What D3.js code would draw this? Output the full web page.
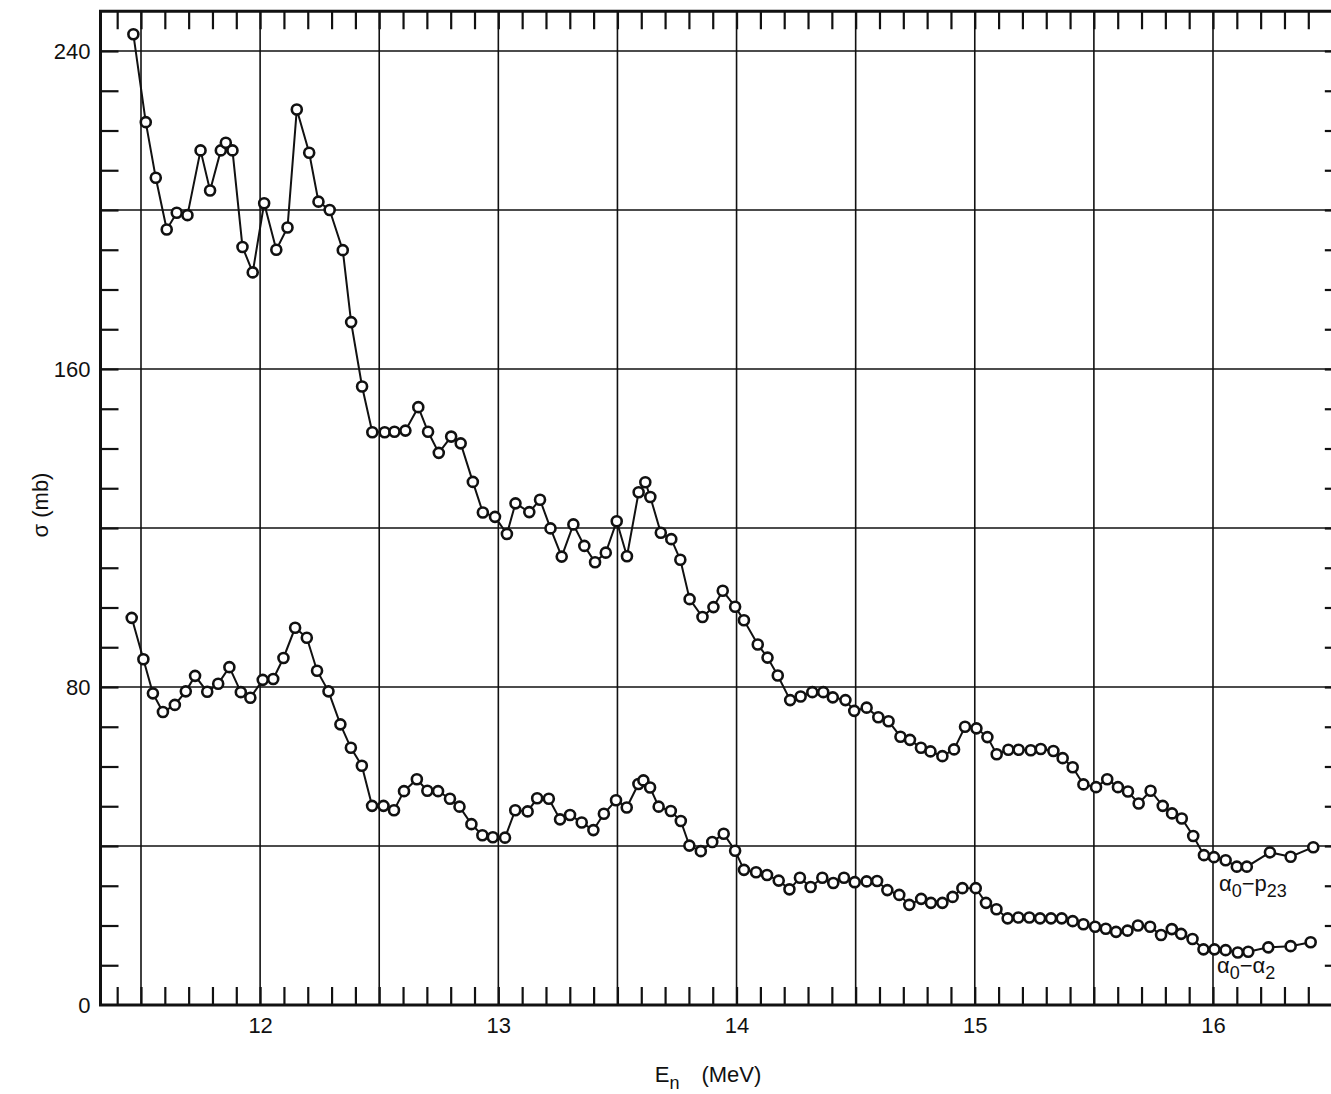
<!DOCTYPE html>
<html>
<head>
<meta charset="utf-8">
<script src="https://cdn.jsdelivr.net/npm/d3@7"></script>
<style>
  body { margin: 0; background: #fff; }
  svg { display: block; font-family: "Liberation Sans", "DejaVu Sans", sans-serif; }
  .tick text { font-size: 22px; fill: #111; }
</style>
</head>
<body>
<div id="chart"></div>
<script>
// neutron energy (MeV) and cross section (mb)
const upperEnergy = [11.468, 11.52, 11.562, 11.608, 11.65, 11.695, 11.75, 11.79, 11.835, 11.856, 11.884, 11.926, 11.969, 12.017, 12.068, 12.115, 12.154, 12.206, 12.245, 12.292, 12.347, 12.382, 12.428, 12.471, 12.523, 12.564, 12.61, 12.664, 12.705, 12.75, 12.802, 12.842, 12.893, 12.935, 12.986, 13.036, 13.072, 13.13, 13.175, 13.219, 13.266, 13.315, 13.361, 13.406, 13.451, 13.497, 13.54, 13.589, 13.617, 13.638, 13.682, 13.726, 13.764, 13.803, 13.857, 13.903, 13.942, 13.994, 14.031, 14.089, 14.13, 14.173, 14.225, 14.269, 14.318, 14.364, 14.404, 14.457, 14.494, 14.546, 14.595, 14.638, 14.688, 14.728, 14.774, 14.814, 14.864, 14.913, 14.959, 15.007, 15.053, 15.092, 15.141, 15.184, 15.235, 15.277, 15.33, 15.369, 15.411, 15.456, 15.509, 15.556, 15.601, 15.643, 15.688, 15.738, 15.789, 15.828, 15.869, 15.917, 15.962, 16.004, 16.053, 16.1, 16.142, 16.239, 16.326, 16.421];
const upperSigma = [244.2, 222.1, 208.1, 195.1, 199.3, 198.7, 215.0, 204.9, 215.0, 216.9, 215.0, 190.7, 184.3, 201.7, 190.0, 195.6, 225.3, 214.4, 202.1, 200.0, 189.9, 171.8, 155.6, 144.1, 144.1, 144.2, 144.5, 150.4, 144.2, 138.9, 143.0, 141.3, 131.6, 123.9, 122.8, 118.5, 126.2, 124.0, 127.1, 119.9, 112.8, 120.9, 115.5, 111.4, 113.8, 121.7, 112.9, 129.0, 131.5, 127.8, 118.8, 117.2, 112.0, 102.1, 97.6, 100.1, 104.2, 100.2, 96.8, 90.7, 87.4, 82.9, 76.7, 77.6, 78.7, 78.7, 77.4, 76.7, 74.0, 74.8, 72.4, 71.4, 67.5, 66.7, 64.7, 63.8, 62.6, 64.3, 70.0, 69.6, 67.4, 63.1, 64.2, 64.2, 64.1, 64.4, 63.9, 62.1, 59.8, 55.5, 54.8, 56.8, 54.8, 53.7, 50.7, 53.9, 50.1, 48.2, 46.9, 42.5, 37.7, 37.2, 36.4, 34.8, 34.8, 38.4, 37.3, 39.7];

const lowerEnergy = [11.461, 11.51, 11.55, 11.592, 11.642, 11.688, 11.727, 11.778, 11.824, 11.871, 11.919, 11.959, 12.011, 12.055, 12.098, 12.147, 12.196, 12.239, 12.287, 12.337, 12.381, 12.427, 12.47, 12.518, 12.562, 12.604, 12.658, 12.702, 12.747, 12.797, 12.837, 12.887, 12.933, 12.977, 13.028, 13.071, 13.123, 13.163, 13.212, 13.259, 13.301, 13.35, 13.399, 13.443, 13.494, 13.539, 13.588, 13.609, 13.637, 13.673, 13.724, 13.766, 13.802, 13.85, 13.898, 13.946, 13.994, 14.031, 14.082, 14.128, 14.177, 14.222, 14.266, 14.311, 14.36, 14.406, 14.451, 14.496, 14.546, 14.59, 14.633, 14.683, 14.725, 14.775, 14.816, 14.864, 14.907, 14.948, 15.004, 15.047, 15.091, 15.138, 15.183, 15.229, 15.274, 15.32, 15.365, 15.411, 15.456, 15.505, 15.55, 15.593, 15.641, 15.685, 15.736, 15.782, 15.827, 15.866, 15.914, 15.96, 16.006, 16.053, 16.104, 16.148, 16.232, 16.326, 16.41];
const lowerSigma = [97.4, 87.0, 78.4, 73.7, 75.5, 78.9, 82.8, 78.8, 80.8, 85.0, 78.7, 77.3, 81.8, 82.0, 87.3, 94.9, 92.4, 84.1, 78.9, 70.6, 64.7, 60.2, 50.1, 50.1, 49.0, 53.8, 56.8, 53.9, 53.8, 51.9, 49.9, 45.5, 42.7, 42.2, 42.1, 49.0, 48.7, 52.0, 51.9, 46.7, 47.8, 45.9, 44.0, 48.1, 51.5, 49.7, 55.6, 56.5, 54.7, 49.9, 48.8, 46.3, 40.1, 38.7, 41.0, 43.1, 38.8, 34.0, 33.4, 32.7, 31.3, 29.1, 32.0, 29.7, 32.0, 30.7, 32.0, 30.9, 31.1, 31.2, 28.9, 27.7, 25.2, 26.7, 25.7, 25.7, 27.2, 29.4, 29.4, 25.7, 24.1, 21.8, 22.0, 22.0, 21.8, 21.8, 21.8, 21.1, 20.3, 19.7, 19.2, 18.4, 18.7, 20.0, 19.7, 17.6, 19.1, 17.9, 16.6, 14.0, 14.0, 13.8, 13.2, 13.4, 14.5, 14.8, 15.8];

const xLabelTicks = [12, 13, 14, 15, 16];
const yLabelTicks = [0, 80, 160, 240];
const xGridTicks = [11.5, 12, 12.5, 13, 13.5, 14, 14.5, 15, 15.5, 16];
const yGridTicks = [40, 80, 120, 160, 200, 240];
const xMinorTicks = d3.range(114, 165).map(d => d / 10);
const yMinorTicks = d3.range(1, 25).map(d => d * 10);

const width = 1331, height = 1094;

const x = d3.scaleLinear().domain([11.5, 16]).range([141, 1213]);
const y = d3.scaleLinear().domain([0, 240]).range([1005, 51]);

const frameLeft = x(11.33), frameRight = x(16.545);
const frameTop = y(250), frameBottom = y(0);

const svg = d3.select('#chart').append('svg')
    .attr('width', width)
    .attr('height', height)
    .style('background', '#fff');

// grid
const grid = svg.append('g').attr('stroke', '#111').attr('stroke-width', 1.6);
xGridTicks.forEach(v => {
    grid.append('line')
        .attr('x1', x(v)).attr('x2', x(v))
        .attr('y1', frameTop).attr('y2', frameBottom);
});
yGridTicks.forEach(v => {
    grid.append('line')
        .attr('x1', frameLeft).attr('x2', frameRight)
        .attr('y1', y(v)).attr('y2', y(v));
});

// minor ticks, pointing inward on all four sides
function minorAxis(axis, tx, ty) {
    const g = svg.append('g')
        .attr('transform', `translate(${tx},${ty})`)
        .call(axis.tickSize(18).tickFormat(''));
    g.select('.domain').remove();
    g.selectAll('.tick line').attr('stroke', '#111').attr('stroke-width', 2.2);
}
minorAxis(d3.axisRight(y).tickValues(yMinorTicks), frameLeft, 0);
minorAxis(d3.axisLeft(y).tickValues(yMinorTicks), frameRight, 0);
minorAxis(d3.axisTop(x).tickValues(xMinorTicks), 0, frameBottom);
minorAxis(d3.axisBottom(x).tickValues(xMinorTicks), 0, frameTop);

// frame
svg.append('rect')
    .attr('x', frameLeft).attr('y', frameTop)
    .attr('width', frameRight - frameLeft).attr('height', frameBottom - frameTop)
    .attr('fill', 'none').attr('stroke', '#111').attr('stroke-width', 3);

// tick labels
const yAxis = svg.append('g')
    .attr('transform', `translate(${frameLeft},0)`)
    .call(d3.axisLeft(y).tickValues(yLabelTicks).tickSize(0).tickPadding(10).tickFormat(d3.format('d')));
yAxis.select('.domain').remove();

const xAxis = svg.append('g')
    .attr('transform', `translate(0,${frameBottom})`)
    .call(d3.axisBottom(x).tickValues(xLabelTicks).tickSize(0).tickPadding(12).tickFormat(d3.format('d')));
xAxis.select('.domain').remove();

// axis titles
const xTitle = svg.append('text')
    .attr('x', 708).attr('y', 1082)
    .attr('text-anchor', 'middle')
    .attr('font-size', 22).attr('fill', '#111');
xTitle.append('tspan').text('E');
xTitle.append('tspan').attr('dy', 7).attr('font-size', 18).text('n');
xTitle.append('tspan').attr('dy', -7).text('\u2003(MeV)');

svg.append('text')
    .attr('transform', 'translate(48,505) rotate(-90)')
    .attr('text-anchor', 'middle')
    .attr('font-size', 22).attr('fill', '#111')
    .text('σ (mb)');

// data series
const series = [
    { energy: upperEnergy, sigma: upperSigma },
    { energy: lowerEnergy, sigma: lowerSigma }
];

const line = d3.line().x(d => x(d[0])).y(d => y(d[1]));

series.forEach(s => {
    const pts = s.energy.map((e, i) => [e, s.sigma[i]]);
    svg.append('path')
        .datum(pts)
        .attr('d', line)
        .attr('fill', 'none')
        .attr('stroke', '#111')
        .attr('stroke-width', 2);
    svg.append('g').selectAll('circle')
        .data(pts)
        .join('circle')
        .attr('cx', d => x(d[0]))
        .attr('cy', d => y(d[1]))
        .attr('r', 5)
        .attr('fill', '#fff')
        .attr('stroke', '#111')
        .attr('stroke-width', 2.6);
});

// curve labels
function curveLabel(px, py, main, sub1, second, sub2) {
    const t = svg.append('text')
        .attr('x', px).attr('y', py)
        .attr('font-size', 22).attr('fill', '#111');
    t.append('tspan').text(main);
    t.append('tspan').attr('dy', 6).attr('font-size', 18).text(sub1);
    t.append('tspan').attr('dy', -6).text('\u2212' + second);
    t.append('tspan').attr('dy', 6).attr('font-size', 18).text(sub2);
}
curveLabel(1219, 891, 'α', '0', 'p', '23');
curveLabel(1217, 973, 'α', '0', 'α', '2');
</script>
</body>
</html>
